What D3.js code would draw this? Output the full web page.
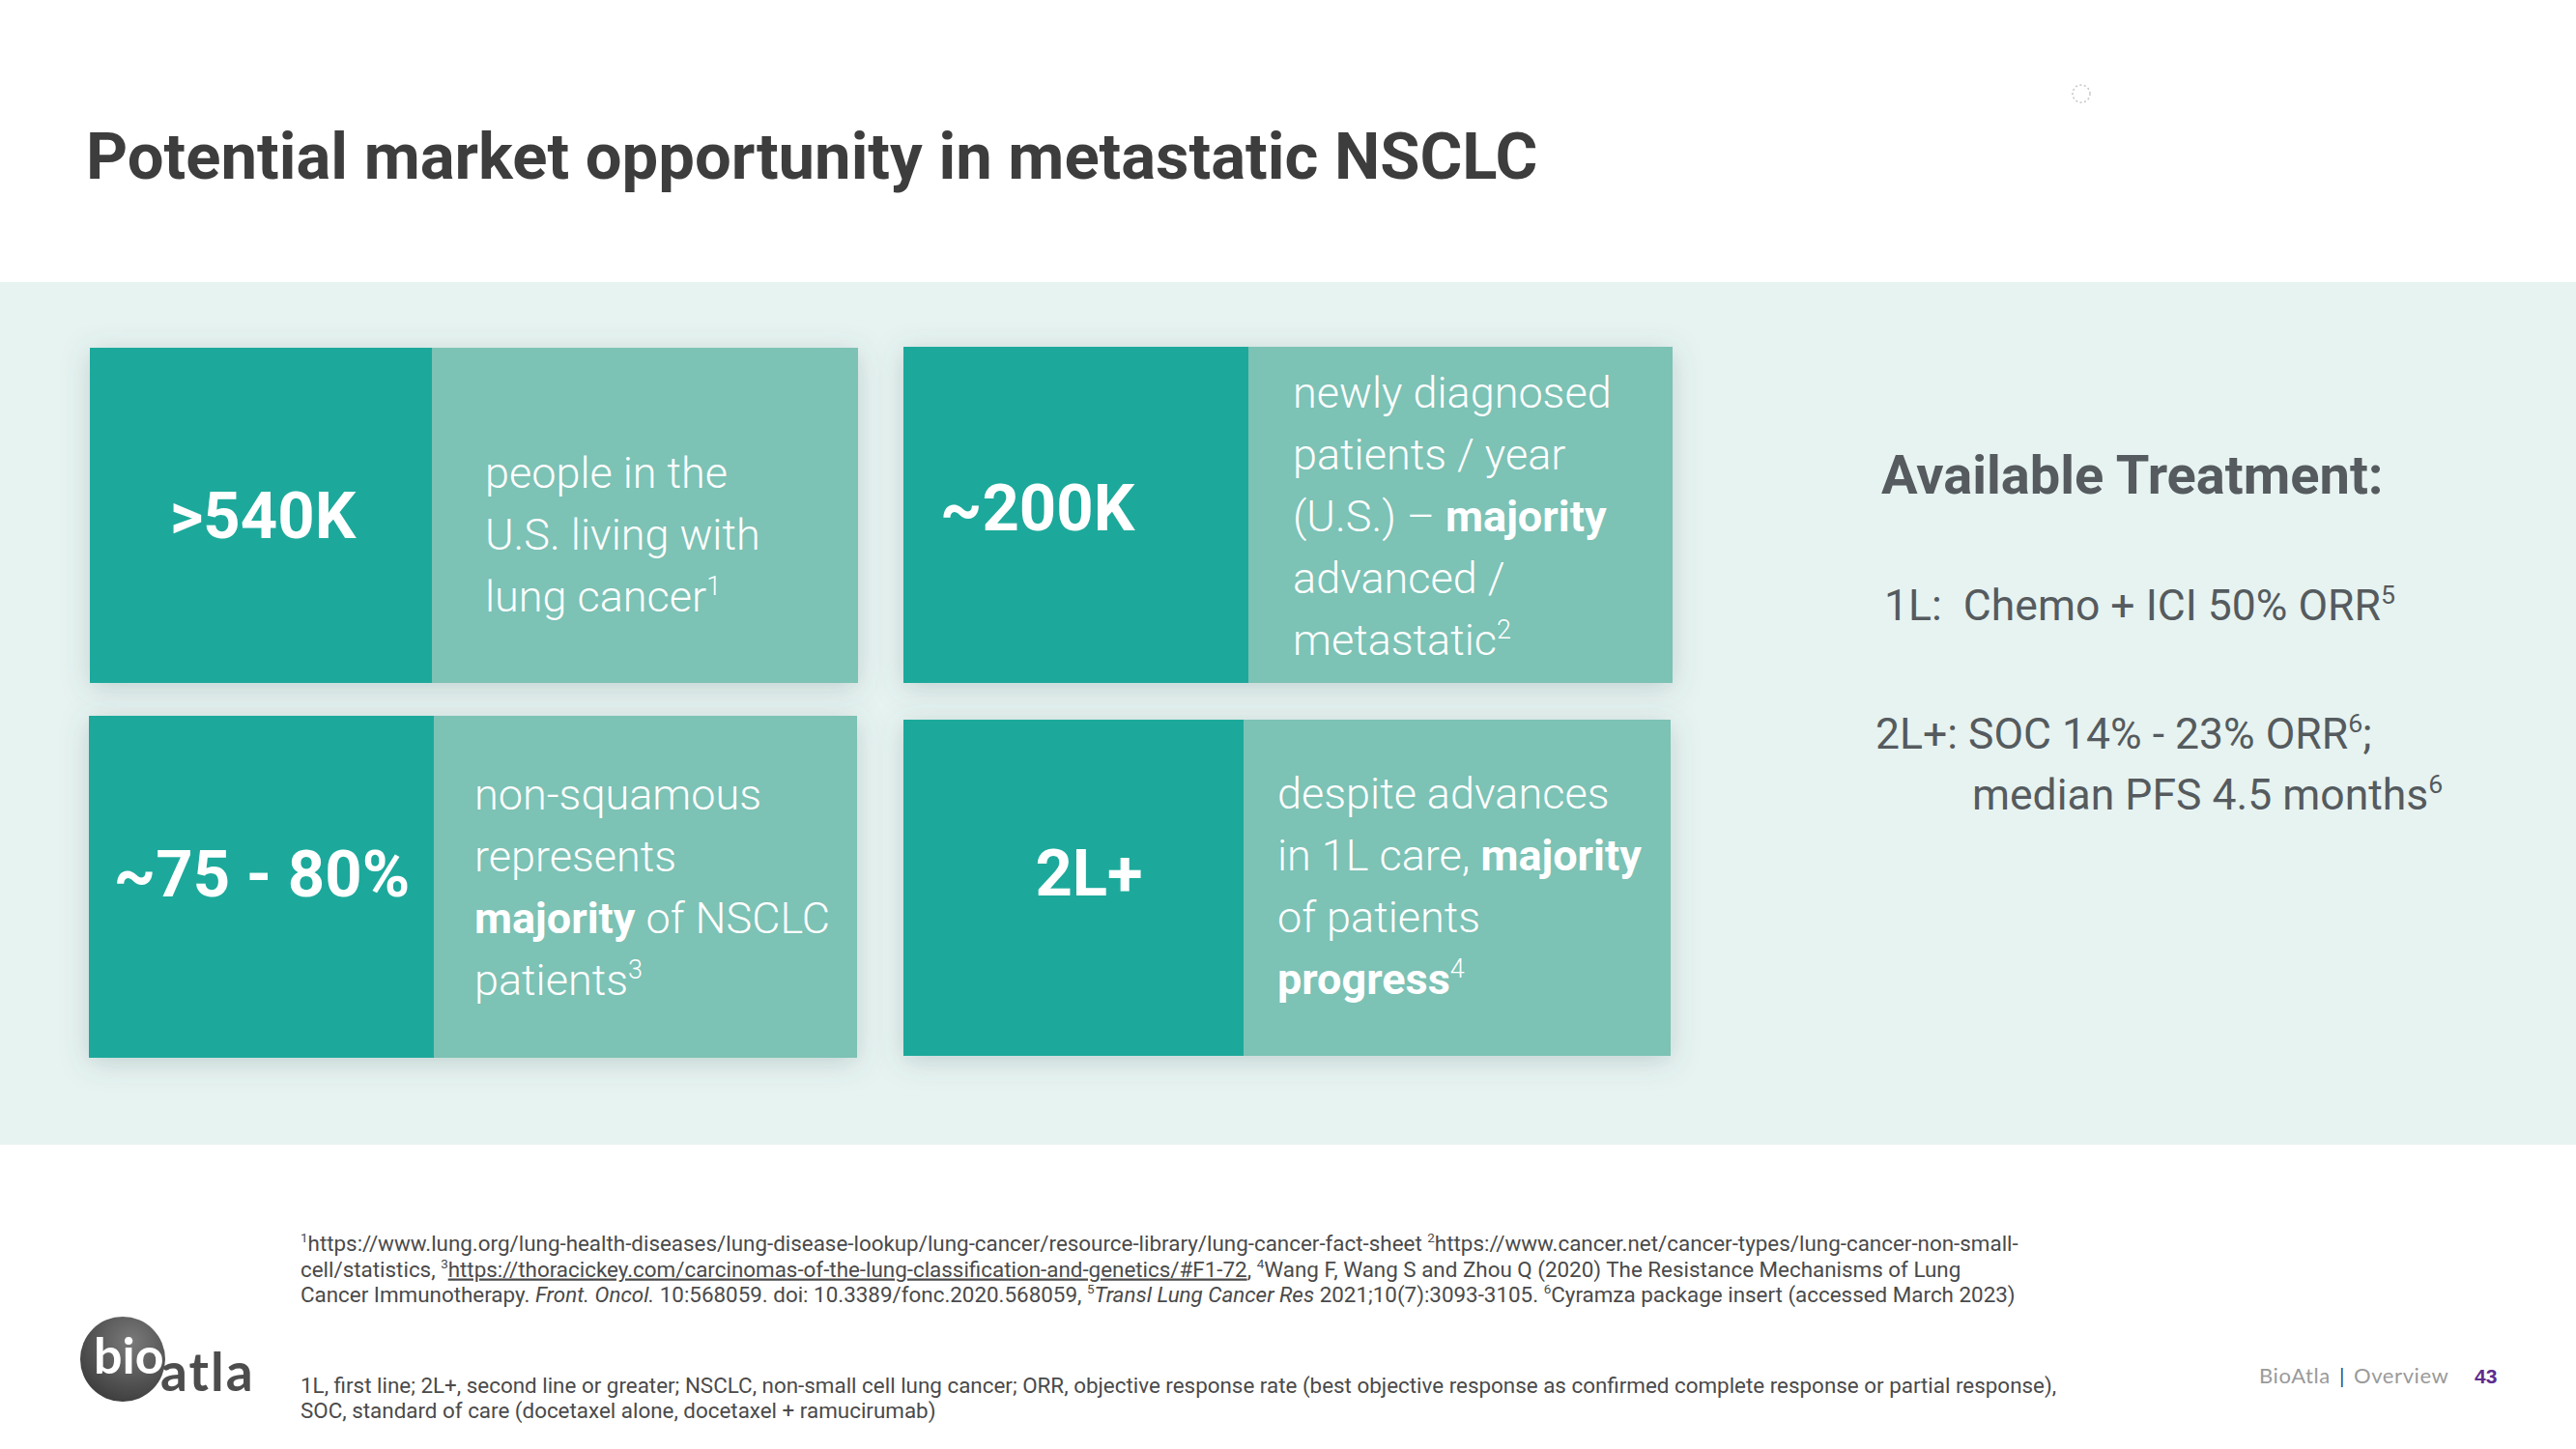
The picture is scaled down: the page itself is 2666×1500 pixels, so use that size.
<!DOCTYPE html>
<html>
<head>
<meta charset="utf-8">
<script src="https://cdn.jsdelivr.net/npm/d3@7"></script>
<style>
  html, body { margin: 0; padding: 0; background: #ffffff; }
  svg { display: block; }
</style>
</head>
<body>
<div id="chart"></div>
<script>
// ---------------- DATA ----------------
const titleText = "Potential market opportunity in metastatic NSCLC";

const statValues = [">540K", "~200K", "~75 - 80%", "2L+"];

const statDescriptions = [
  ["people in the", "U.S. living with", "lung cancer^1^"],
  ["newly diagnosed", "patients / year", "(U.S.) \u2013 **majority**", "advanced /", "metastatic^2^"],
  ["non-squamous", "represents", "**majority** of NSCLC", "patients^3^"],
  ["despite advances", "in 1L care, **majority**", "of patients", "**progress**^4^"]
];

const treatmentHeading = "Available Treatment:";
const treatmentLines = [
  "1L:\u00a0 Chemo + ICI 50% ORR^5^",
  "2L+: SOC 14% - 23% ORR^6^;",
  "median PFS 4.5 months^6^"
];

const referenceLines = [
  "^1^https://www.lung.org/lung-health-diseases/lung-disease-lookup/lung-cancer/resource-library/lung-cancer-fact-sheet ^2^https://www.cancer.net/cancer-types/lung-cancer-non-small-",
  "cell/statistics, ^3^[[https://thoracickey.com/carcinomas-of-the-lung-classification-and-genetics/#F1-72]], ^4^Wang F, Wang S and Zhou Q (2020) The Resistance Mechanisms of Lung",
  "Cancer Immunotherapy. *Front. Oncol.* 10:568059. doi: 10.3389/fonc.2020.568059, ^5^*Transl Lung Cancer Res* 2021;10(7):3093-3105. ^6^Cyramza package insert (accessed March 2023)"
];
const abbreviationLines = [
  "1L, first line; 2L+, second line or greater; NSCLC, non-small cell lung cancer; ORR, objective response rate (best objective response as confirmed complete response or partial response),",
  "SOC, standard of care (docetaxel alone, docetaxel + ramucirumab)"
];

const footerLabels = ["BioAtla", "Overview"];
const pageNumber = "43";

// ---------------- LAYOUT ----------------
const W = 2666, H = 1500;
const C = {
  title: "#3d3d3d",
  band: "#e7f3f1",
  dark: "#1ca99b",
  light: "#7bc2b5",
  side: "#555b5e",
  foot: "#4a4a4a"
};

// card geometry (px)
const cardLayout = [
  { x: 93,  y: 360, w: 795, h: 347, split: 354, numX: 272,  numAnchor: "middle", numBase: 557, textX: 502,  textBase: 505 },
  { x: 935, y: 359, w: 796, h: 348, split: 357, numX: 973,  numAnchor: "start",  numBase: 549, textX: 1338, textBase: 422 },
  { x: 92,  y: 741, w: 795, h: 354, split: 357, numX: 271,  numAnchor: "middle", numBase: 928, textX: 491,  textBase: 838 },
  { x: 935, y: 745, w: 794, h: 348, split: 352, numX: 1127, numAnchor: "middle", numBase: 927, textX: 1322, textBase: 837 }
];
const lineStep = 64;
const numSize = 67, bodySize = 45;

const svg = d3.select("#chart").append("svg")
  .attr("width", W).attr("height", H)
  .attr("viewBox", `0 0 ${W} ${H}`)
  .style("font-family", "Roboto, 'Noto Sans', sans-serif");

const defs = svg.append("defs");
const shadow = defs.append("filter").attr("id", "shadow")
  .attr("x", "-10%").attr("y", "-12%").attr("width", "120%").attr("height", "130%");
shadow.append("feDropShadow").attr("dx", 0).attr("dy", 5)
  .attr("stdDeviation", 14).attr("flood-color", "#4a6b66").attr("flood-opacity", 0.25);

const grad = defs.append("radialGradient").attr("id", "logoGrad")
  .attr("cx", "60%").attr("cy", "30%").attr("r", "75%");
grad.append("stop").attr("offset", "0%").attr("stop-color", "#7a7a7a");
grad.append("stop").attr("offset", "100%").attr("stop-color", "#3c3c3c");

// rich text helper
function richText(sel, str, fs) {
  const parts = str.split(/(\*\*.+?\*\*|\*.+?\*|\^.+?\^|\[\[.+?\]\])/g).filter(s => s.length);
  const supShift = fs * 0.38;
  let raised = false;
  parts.forEach(p => {
    const t = sel.append("tspan");
    let txt = p, sup = false;
    if (p.startsWith("**")) { txt = p.slice(2, -2); t.attr("font-weight", 700); }
    else if (p.startsWith("*")) { txt = p.slice(1, -1); t.attr("font-style", "italic"); }
    else if (p.startsWith("^")) { txt = p.slice(1, -1); sup = true; }
    else if (p.startsWith("[[")) { txt = p.slice(2, -2); t.attr("text-decoration", "underline"); }
    if (sup) {
      t.attr("font-size", fs * 0.6).attr("dy", raised ? 0 : -supShift);
      raised = true;
    } else {
      t.attr("dy", raised ? supShift : 0);
      raised = false;
    }
    t.text(txt);
  });
}

// ---------------- BACKGROUND ----------------
svg.append("rect").attr("x", 0).attr("y", 0).attr("width", W).attr("height", H).attr("fill", "#ffffff");
svg.append("rect").attr("x", 0).attr("y", 292).attr("width", W).attr("height", 893).attr("fill", C.band);

// title
svg.append("text").attr("x", 89).attr("y", 185)
  .attr("font-size", 67).attr("font-weight", 700).attr("fill", C.title)
  .text(titleText);

// small loading glyph
svg.append("circle").attr("cx", 2154).attr("cy", 97).attr("r", 9)
  .attr("fill", "none").attr("stroke", "#c4c4c4").attr("stroke-width", 1.5)
  .attr("stroke-dasharray", "2,2.5");

// ---------------- CARDS ----------------
const cards = svg.selectAll("g.card").data(statValues.map((v, i) => ({ v, desc: statDescriptions[i], L: cardLayout[i] })))
  .join("g").attr("class", "card");

cards.append("rect")
  .attr("x", d => d.L.x).attr("y", d => d.L.y)
  .attr("width", d => d.L.w).attr("height", d => d.L.h)
  .attr("fill", C.light).attr("filter", "url(#shadow)");
cards.append("rect")
  .attr("x", d => d.L.x).attr("y", d => d.L.y)
  .attr("width", d => d.L.split).attr("height", d => d.L.h)
  .attr("fill", C.dark);

cards.append("text")
  .attr("x", d => d.L.numX).attr("y", d => d.L.numBase)
  .attr("text-anchor", d => d.L.numAnchor)
  .attr("font-size", numSize).attr("font-weight", 700).attr("fill", "#ffffff")
  .text(d => d.v);

cards.each(function (d) {
  const g = d3.select(this);
  d.desc.forEach((line, i) => {
    const t = g.append("text")
      .attr("x", d.L.textX).attr("y", d.L.textBase + i * lineStep)
      .attr("font-size", bodySize).attr("font-weight", 300).attr("fill", "#ffffff");
    richText(t, line, bodySize);
  });
});

// ---------------- SIDE PANEL ----------------
svg.append("text").attr("x", 1947).attr("y", 511)
  .attr("font-size", 56).attr("font-weight", 700).attr("fill", C.side)
  .text(treatmentHeading);

const sidePos = [
  { x: 1950, y: 642 },
  { x: 1941, y: 775 },
  { x: 2041, y: 838 }
];
treatmentLines.forEach((line, i) => {
  const t = svg.append("text").attr("x", sidePos[i].x).attr("y", sidePos[i].y)
    .attr("font-size", 44.5).attr("font-weight", 400).attr("fill", C.side);
  richText(t, line, 44.5);
});

// ---------------- FOOTNOTES ----------------
const footSize = 22.4;
referenceLines.forEach((line, i) => {
  const t = svg.append("text").attr("x", 311).attr("y", 1295 + i * 26.5)
    .attr("font-size", footSize).attr("fill", C.foot);
  richText(t, line, footSize);
});
abbreviationLines.forEach((line, i) => {
  const t = svg.append("text").attr("x", 311).attr("y", 1442 + i * 26)
    .attr("font-size", footSize).attr("fill", C.foot);
  richText(t, line, footSize);
});

// ---------------- LOGO ----------------
const logo = svg.append("g");
logo.append("circle").attr("cx", 127).attr("cy", 1407).attr("r", 44).attr("fill", "url(#logoGrad)");
logo.append("text").attr("x", 97).attr("y", 1422)
  .attr("font-family", "Lato, 'Noto Sans', sans-serif").attr("font-size", 52).attr("font-weight", 700)
  .attr("fill", "#ffffff").attr("letter-spacing", 0).text("bio");
logo.append("text").attr("x", 166).attr("y", 1440)
  .attr("font-family", "Lato, 'Noto Sans', sans-serif").attr("font-size", 55).attr("font-weight", 700)
  .attr("fill", "#4d4d4d").attr("letter-spacing", 2).text("atla");

// ---------------- PAGE FOOTER ----------------
const ft = svg.append("text").attr("x", 2338).attr("y", 1432)
  .attr("font-family", "Lato, 'Noto Sans', sans-serif").attr("font-size", 22).attr("fill", "#9a9a9a")
  .attr("letter-spacing", 0.6);
ft.append("tspan").text(footerLabels[0]);
ft.append("tspan").attr("dx", 9).attr("fill", "#2d4a75").text("|");
ft.append("tspan").attr("dx", 9).text(footerLabels[1]);
svg.append("text").attr("x", 2561).attr("y", 1432)
  .attr("font-family", "'Liberation Sans', Arial, sans-serif").attr("font-size", 21)
  .attr("font-weight", 700).attr("fill", "#5b2d8e").text(pageNumber);
</script>
</body>
</html>
